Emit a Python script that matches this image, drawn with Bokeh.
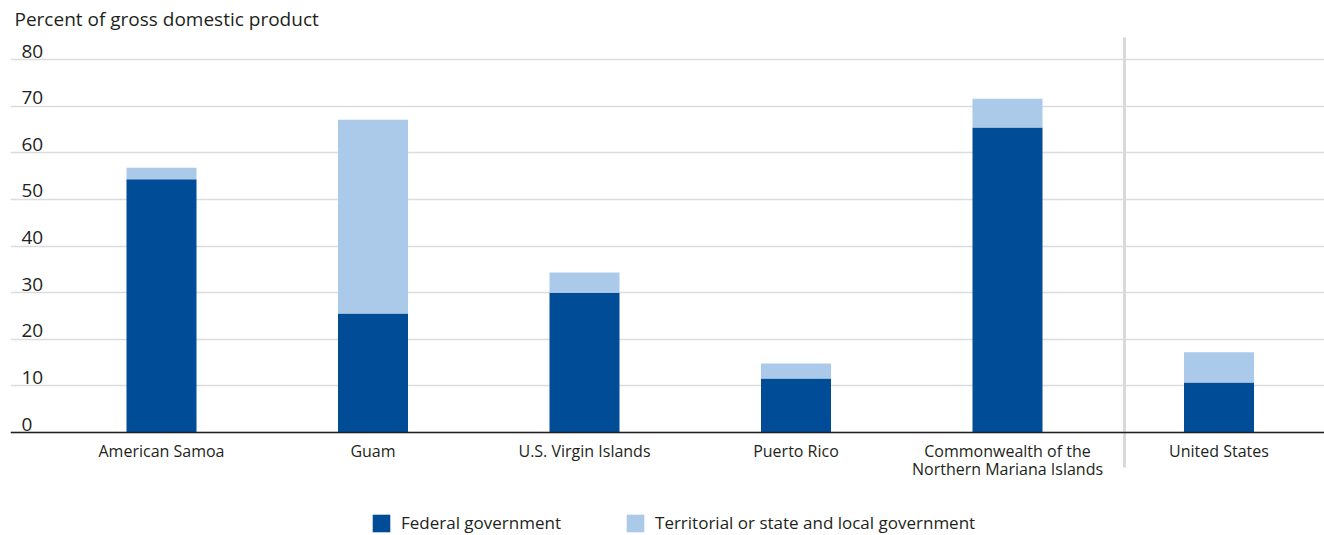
from bokeh.plotting import figure
from bokeh.models import Range1d, FixedTicker, ColumnDataSource, Legend, LegendItem, Span
from bokeh.core.properties import value
from bokeh.embed import file_html
from bokeh.resources import INLINE

# ---- data ----
categories = [
    "American Samoa",
    "Guam",
    "U.S. Virgin Islands",
    "Puerto Rico",
    "Commonwealth of the\nNorthern Mariana Islands",
    "United States",
]
federal = [54.3, 25.5, 30.0, 11.6, 65.4, 10.7]
territorial = [2.5, 41.6, 4.3, 3.2, 6.2, 6.5]
y_ticks = [0, 10, 20, 30, 40, 50, 60, 70, 80]
y_tick_labels = [str(t) for t in y_ticks]
title_text = "Percent of gross domestic product"
series_labels = ["Federal government", "Territorial or state and local government"]

# ---- layout / style ----
W, H = 1324, 535
LEFT = 10
CAT0_PX = 161.0
PX_PER_CAT = 211.5
ZERO_PX = 432.0
PX_PER_UNIT = 373.0 / 80.0
FONT = "Open Sans"
TEXT_COLOR = "#231f20"
DARK = "#004c97"
LIGHT = "#abc9e8"


def xd(px):
    return (px - CAT0_PX) / PX_PER_CAT


def yd(py):
    return (ZERO_PX - py) / PX_PER_UNIT


p = figure(
    width=W, height=H,
    x_range=Range1d(xd(LEFT), xd(W)),
    y_range=Range1d(yd(H), yd(0)),
    output_backend="svg", toolbar_location=None,
    x_axis_location=None, y_axis_location=None,
    min_border_left=LEFT, min_border_right=0, min_border_top=0, min_border_bottom=0,
)
p.outline_line_color = None
p.xgrid.visible = False
p.ygrid.ticker = FixedTicker(ticks=y_ticks)
p.ygrid.grid_line_color = "#dcdcdc"
p.ygrid.grid_line_width = 1.5

# separator between territories and United States
p.segment(x0=[xd(1124)], y0=[yd(37)], x1=[xd(1124)], y1=[yd(467)],
          line_color="#d9d9db", line_width=3)

x = list(range(len(categories)))
source = ColumnDataSource(dict(x=x, federal=federal, territorial=territorial))
rs = p.vbar_stack(["federal", "territorial"], x="x", width=70 / PX_PER_CAT,
                  color=[DARK, LIGHT], source=source, line_width=0)

p.add_layout(Span(location=0, dimension="width", line_color="#231f20", line_width=1.5))

# category labels
p.text(x=x, y=[yd(439)] * len(x), text=categories, text_align="center",
       text_baseline="top", text_font=value(FONT), text_font_size="16px",
       text_color=TEXT_COLOR, text_line_height=0.83)

# y tick labels
p.text(x=[xd(21)] * len(y_ticks), y=[t + 8.5 / PX_PER_UNIT for t in y_ticks],
       text=y_tick_labels, text_align="left", text_baseline="alphabetic",
       text_font=value(FONT), text_font_size="19px", text_color=TEXT_COLOR)

# title
p.text(x=[xd(14)], y=[yd(18)], text=[title_text], text_align="left",
       text_baseline="alphabetic", text_font=value(FONT), text_font_size="19px",
       text_color=TEXT_COLOR)

legend = Legend(
    items=[LegendItem(label=series_labels[0], renderers=[rs[0]]),
           LegendItem(label=series_labels[1], renderers=[rs[1]])],
    orientation="horizontal", location=(360, 1),
    glyph_width=22, glyph_height=22, label_standoff=9, spacing=63,
    padding=0, margin=0, border_line_color=None, background_fill_alpha=0,
    label_text_font=FONT, label_text_font_size="17px", label_text_color=TEXT_COLOR,
)
p.add_layout(legend)

open("out.html", "w").write(file_html(p, INLINE))
